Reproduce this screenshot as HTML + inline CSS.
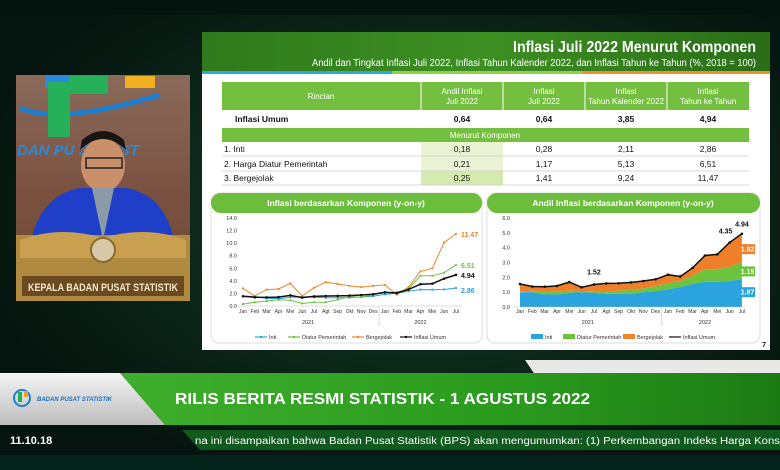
<!DOCTYPE html>
<html><head><meta charset="utf-8"><style>
html,body{margin:0;padding:0;width:780px;height:470px;overflow:hidden;background:#04140f;}
svg{display:block}
text{font-family:"Liberation Sans",sans-serif}
</style></head><body>
<svg id="s" width="780" height="470" viewBox="0 0 780 470" xmlns="http://www.w3.org/2000/svg">
<defs>
<radialGradient id="bg" cx="0.55" cy="0.45" r="0.6">
<stop offset="0" stop-color="#1f5a2a"/><stop offset="0.5" stop-color="#0d2a1a"/><stop offset="1" stop-color="#06140f"/>
</radialGradient>
<linearGradient id="hdr" x1="0" x2="1"><stop offset="0" stop-color="#2f7a1c"/><stop offset="0.5" stop-color="#3d8f22"/><stop offset="1" stop-color="#2a6e18"/></linearGradient>
<linearGradient id="band" x1="0" x2="1"><stop offset="0" stop-color="#3fae2c"/><stop offset="0.6" stop-color="#2a9a1e"/><stop offset="1" stop-color="#1c7a14"/></linearGradient>
<linearGradient id="gray" x1="0" y1="0" x2="0" y2="1"><stop offset="0" stop-color="#f4f4f4"/><stop offset="1" stop-color="#bdbdbd"/></linearGradient>
<linearGradient id="vid" x1="0" y1="0" x2="0" y2="1"><stop offset="0" stop-color="#8a6a5a"/><stop offset="0.55" stop-color="#7a5040"/><stop offset="1" stop-color="#6a4a30"/></linearGradient>
</defs>
<rect width="780" height="470" fill="url(#bg)"/>
<rect width="780" height="15" fill="#03140e"/>
<!-- video -->
<rect x="16" y="75" width="174" height="226" fill="url(#vid)"/>
<path d="M20 108 Q60 125 160 95" stroke="#1e7fd0" stroke-width="5" fill="none"/>
<rect x="45" y="76" width="40" height="12" fill="#2a8ae0"/>
<rect x="48" y="82" width="22" height="55" fill="#27b05a"/>
<rect x="70" y="76" width="38" height="18" fill="#27b05a"/>
<rect x="125" y="76" width="30" height="12" fill="#f0b020"/>
<text x="17" y="155" font-size="15" font-weight="bold" font-style="italic" fill="#2a8ad8">DAN PU    STATIST</text>
<ellipse cx="103" cy="165" rx="22" ry="27" fill="#c9906a"/>
<path d="M80 150 Q103 128 126 150 L124 140 Q103 122 82 140Z" fill="#1a1412"/>
<rect x="86" y="158" width="36" height="10" fill="none" stroke="#222" stroke-width="1.5"/>
<path d="M30 245 Q40 195 80 188 L126 188 Q166 195 175 245Z" fill="#1f3fc8"/>
<path d="M92 188 L103 240 L114 188Z" fill="#8a9aa8"/>
<rect x="16" y="235" width="174" height="66" fill="#b08a40"/>
<path d="M20 240 Q60 225 103 238 Q146 225 186 240 L186 258 L20 258Z" fill="#c9a050"/>
<circle cx="103" cy="250" r="12" fill="#d8c8a8" stroke="#8a6a30" stroke-width="2"/>
<rect x="22" y="276" width="162" height="20" fill="#6a4a20"/>
<text x="103" y="291" font-size="11" font-weight="bold" fill="#f4e8c8" text-anchor="middle" textLength="150" lengthAdjust="spacingAndGlyphs">KEPALA BADAN PUSAT STATISTIK</text>
<!-- slide -->
<rect x="202" y="32" width="568" height="318" fill="#fff"/>
<rect x="202" y="32" width="568" height="41" fill="url(#hdr)"/>
<rect x="202" y="71" width="190" height="3" fill="#2aa8e0"/><rect x="392" y="71" width="190" height="3" fill="#8ed04a"/><rect x="582" y="71" width="188" height="3" fill="#f0902a"/>
<text x="756" y="52" font-size="16" font-weight="bold" fill="#fff" text-anchor="end" textLength="243" lengthAdjust="spacingAndGlyphs">Inflasi Juli 2022 Menurut Komponen</text>
<text x="756" y="66" font-size="10" fill="#fff" text-anchor="end" textLength="444" lengthAdjust="spacingAndGlyphs">Andil dan Tingkat Inflasi Juli 2022, Inflasi Tahun Kalender 2022, dan Inflasi Tahun ke Tahun (%, 2018 = 100)</text>
<!-- table -->
<rect x="222" y="82" width="527" height="28" fill="#74bf3f"/>
<g stroke="#fff" stroke-width="1"><line x1="421" y1="82" x2="421" y2="110"/><line x1="503" y1="82" x2="503" y2="110"/><line x1="585" y1="82" x2="585" y2="110"/><line x1="667" y1="82" x2="667" y2="110"/></g>
<g font-size="8" fill="#fff" text-anchor="middle">
<text x="321" y="99">Rincian</text>
<text x="462" y="94">Andil Inflasi</text><text x="462" y="104">Juli 2022</text>
<text x="544" y="94">Inflasi</text><text x="544" y="104">Juli 2022</text>
<text x="626" y="94">Inflasi</text><text x="626" y="104">Tahun Kalender 2022</text>
<text x="708" y="94">Inflasi</text><text x="708" y="104">Tahun ke Tahun</text>
</g>
<rect x="421" y="142" width="82" height="43" fill="#eaf4d4"/>
<rect x="421" y="171" width="82" height="14" fill="#d4eab0"/>
<rect x="222" y="128" width="527" height="14" fill="#74bf3f"/>
<text x="485" y="138" font-size="8" fill="#fff" text-anchor="middle">Menurut Komponen</text>
<g stroke="#ccc" stroke-width="0.8"><line x1="222" y1="156" x2="749" y2="156"/><line x1="222" y1="171" x2="749" y2="171"/><line x1="222" y1="185" x2="749" y2="185"/></g>
<g font-size="8.5" fill="#111">
<text x="235" y="122" font-weight="bold">Inflasi Umum</text>
<g font-weight="bold" text-anchor="middle"><text x="462" y="122">0,64</text><text x="544" y="122">0,64</text><text x="626" y="122">3,85</text><text x="708" y="122">4,94</text></g>
<text x="224" y="152">1.  Inti</text><text x="224" y="167">2.  Harga Diatur Pemerintah</text><text x="224" y="181">3.  Bergejolak</text>
<g text-anchor="middle">
<text x="462" y="152">0,18</text><text x="544" y="152">0,28</text><text x="626" y="152">2,11</text><text x="708" y="152">2,86</text>
<text x="462" y="167">0,21</text><text x="544" y="167">1,17</text><text x="626" y="167">5,13</text><text x="708" y="167">6,51</text>
<text x="462" y="181">0,25</text><text x="544" y="181">1,41</text><text x="626" y="181">9,24</text><text x="708" y="181">11,47</text>
</g></g>
<!-- chart panels -->
<rect x="211" y="193" width="271" height="150" rx="8" fill="#fff" stroke="#ddd"/>
<rect x="211" y="193" width="271" height="20" rx="10" fill="#6cbd3c"/>
<text x="346" y="206" font-size="8.5" font-weight="bold" fill="#fff" text-anchor="middle">Inflasi berdasarkan Komponen (y-on-y)</text>
<rect x="487" y="193" width="273" height="150" rx="8" fill="#fff" stroke="#ddd"/>
<rect x="487" y="193" width="273" height="20" rx="10" fill="#6cbd3c"/>
<text x="623" y="206" font-size="8.5" font-weight="bold" fill="#fff" text-anchor="middle">Andil Inflasi berdasarkan Komponen (y-on-y)</text>
<g id="lc"></g><g id="rc"></g>
<text x="766" y="347" font-size="7" font-weight="bold" fill="#222" text-anchor="end">7</text>
<!-- bottom banner -->
<path d="M525 360 L780 360 L780 382 L540 382Z" fill="#e8e8e8"/>
<path d="M120 373 L780 373 L780 425 L165 425Z" fill="url(#band)"/>
<path d="M0 373 L120 373 L165 425 L0 425Z" fill="url(#gray)"/>
<circle cx="22" cy="398" r="8" fill="none" stroke="#1e7fd0" stroke-width="2"/>
<rect x="18" y="392" width="4" height="10" fill="#27b05a"/><rect x="24" y="391" width="4" height="6" fill="#f0a020"/>
<text x="37" y="401" font-size="6" font-weight="bold" font-style="italic" fill="#1e6fc0">BADAN PUSAT STATISTIK</text>
<text x="175" y="404" font-size="16" font-weight="bold" fill="#fff" textLength="415" lengthAdjust="spacingAndGlyphs">RILIS BERITA RESMI STATISTIK - 1 AGUSTUS 2022</text>
<path d="M182 430 L780 430 L780 450 L200 450Z" fill="#0f5a1c"/>
<text x="195" y="444" font-size="10" fill="#fff" textLength="585" lengthAdjust="spacingAndGlyphs">na ini disampaikan bahwa Badan Pusat Statistik (BPS) akan mengumumkan: (1) Perkembangan Indeks Harga Kons</text>
<text x="10" y="444" font-size="11" font-weight="bold" fill="#fff">11.10.18</text>
<rect x="0" y="455" width="780" height="15" fill="#04231b"/>
</svg>
<script>
var NS="http://www.w3.org/2000/svg";
function el(p,t,a,txt){var e=document.createElementNS(NS,t);for(var k in a)e.setAttribute(k,a[k]);if(txt!=null)e.textContent=txt;p.appendChild(e);return e;}
var M=["Jan","Feb","Mar","Apr","Mei","Jun","Jul","Agt","Sep","Okt","Nov","Des","Jan","Feb","Mar","Apr","Mei","Jun","Jul"];
// left
var L=document.getElementById("lc");
var lx=function(i){return 243+i*11.83},ly=function(v){return 306-v*6.29};
for(var v=0;v<=14;v+=2){el(L,"text",{x:237,y:ly(v)+2,"font-size":5.5,"text-anchor":"end",fill:"#333"},v.toFixed(1));}
el(L,"line",{x1:238,y1:306,x2:462,y2:306,stroke:"#bbb","stroke-width":0.6});
M.forEach(function(m,i){el(L,"text",{x:lx(i),y:313,"font-size":5,"text-anchor":"middle",fill:"#333"},m)});
el(L,"line",{x1:lx(11.5),y1:307,x2:lx(11.5),y2:326,stroke:"#bbb","stroke-width":0.6});
el(L,"text",{x:lx(5.5),y:324,"font-size":5.5,"text-anchor":"middle",fill:"#333"},"2021");
el(L,"text",{x:lx(15),y:324,"font-size":5.5,"text-anchor":"middle",fill:"#333"},"2022");
var inti=[1.55,1.53,1.21,1.18,1.37,1.49,1.40,1.31,1.30,1.33,1.44,1.56,1.84,2.03,2.37,2.60,2.58,2.63,2.86];
var dia=[0.3,0.6,0.8,1.0,0.9,0.4,0.6,0.6,1.0,1.5,1.4,1.8,2.1,2.2,2.7,4.8,4.8,5.3,6.51];
var ber=[2.8,1.6,2.6,2.7,3.6,1.6,2.9,3.8,3.5,3.2,3.0,3.2,3.35,1.8,3.0,5.5,6.0,10.1,11.47];
var um=[1.55,1.38,1.37,1.42,1.68,1.33,1.52,1.59,1.60,1.66,1.75,1.87,2.18,2.06,2.64,3.47,3.55,4.35,4.94];
function line(g,d,c,w,xf,yf,r){var p=d.map(function(v,i){return xf(i).toFixed(1)+","+yf(v).toFixed(1)}).join(" ");
el(g,"polyline",{points:p,fill:"none",stroke:c,"stroke-width":w});d.forEach(function(v,i){el(g,"circle",{cx:xf(i),cy:yf(v),r:r,fill:c})});}
line(L,inti,"#2ba3de",1,lx,ly,1.1);line(L,dia,"#6cc43d",1,lx,ly,1.1);line(L,ber,"#f0842c",1,lx,ly,1.1);line(L,um,"#111",1.5,lx,ly,1.3);
el(L,"text",{x:461,y:ly(11.47)+3,"font-size":7,"font-weight":"bold",fill:"#f0842c"},"11.47");
el(L,"text",{x:461,y:ly(6.51)+3,"font-size":7,"font-weight":"bold",fill:"#6cc43d"},"6.51");
el(L,"text",{x:461,y:ly(4.94)+3,"font-size":7,"font-weight":"bold",fill:"#111"},"4.94");
el(L,"text",{x:461,y:ly(2.86)+5,"font-size":7,"font-weight":"bold",fill:"#2ba3de"},"2.86");
var lg=[["#2ba3de","Inti",255],["#6cc43d","Diatur Pemerintah",288],["#f0842c","Bergejolak",352],["#111","Inflasi Umum",400]];
lg.forEach(function(a){el(L,"line",{x1:a[2],y1:337,x2:a[2]+12,y2:337,stroke:a[0],"stroke-width":1.2});el(L,"circle",{cx:a[2]+6,cy:337,r:1.2,fill:a[0]});el(L,"text",{x:a[2]+14,y:339,"font-size":5.5,fill:"#333"},a[1])});
// right
var R=document.getElementById("rc");
var rx=function(i){return 520+i*12.33},ry=function(v){return 307-v*14.83};
for(var v=0;v<=6;v++){el(R,"text",{x:510,y:ry(v)+2,"font-size":5.5,"text-anchor":"end",fill:"#333"},v.toFixed(1));}
var ai=[1.0,1.0,0.85,0.85,0.95,1.0,0.95,0.9,0.9,0.9,1.0,1.05,1.2,1.35,1.55,1.7,1.7,1.75,1.87];
var ad=[0.05,0.1,0.15,0.2,0.15,0.08,0.1,0.1,0.2,0.25,0.25,0.35,0.4,0.4,0.55,0.85,0.85,0.95,1.15];
function area(lo,hi,c){var p=[];hi.forEach(function(v,i){p.push(rx(i).toFixed(1)+","+ry(v).toFixed(1))});for(var i=lo.length-1;i>=0;i--)p.push(rx(i).toFixed(1)+","+ry(lo[i]).toFixed(1));el(R,"polygon",{points:p.join(" "),fill:c});}
var z=ai.map(function(){return 0}),s2=ai.map(function(v,i){return v+ad[i]});
area(s2,um,"#ef7f2a");area(ai,s2,"#6cc43d");area(z,ai,"#2ba3de");
el(R,"line",{x1:514,y1:307,x2:746,y2:307,stroke:"#bbb","stroke-width":0.6});
line(R,um,"#111",1.5,rx,ry,1.3);
M.forEach(function(m,i){el(R,"text",{x:rx(i),y:313,"font-size":5,"text-anchor":"middle",fill:"#333"},m)});
el(R,"line",{x1:rx(11.5),y1:307,x2:rx(11.5),y2:326,stroke:"#bbb","stroke-width":0.6});
el(R,"text",{x:rx(5.5),y:324,"font-size":5.5,"text-anchor":"middle",fill:"#333"},"2021");
el(R,"text",{x:rx(15),y:324,"font-size":5.5,"text-anchor":"middle",fill:"#333"},"2022");
el(R,"text",{x:rx(6),y:ry(1.52)-10,"font-size":7,"font-weight":"bold","text-anchor":"middle",fill:"#111"},"1.52");
el(R,"text",{x:rx(17)-4,y:ry(4.35)-9,"font-size":7,"font-weight":"bold","text-anchor":"middle",fill:"#111"},"4.35");
el(R,"text",{x:rx(18),y:ry(4.94)-7,"font-size":7,"font-weight":"bold","text-anchor":"middle",fill:"#111"},"4.94");
[["#ef7f2a","1.92",3.9],["#6cc43d","1.15",2.4],["#2ba3de","1.87",1.0]].forEach(function(a){el(R,"rect",{x:740,y:ry(a[2])-5,width:15,height:10,fill:a[0]});el(R,"text",{x:747.5,y:ry(a[2])+2.5,"font-size":7,"font-weight":"bold","text-anchor":"middle",fill:"#fff"},a[1])});
var rl=[["#2ba3de","Inti",531,1],["#6cc43d","Diatur Pemerintah",563,1],["#f0842c","Bergejolak",623,1],["#111","Inflasi Umum",669,0]];
rl.forEach(function(a){if(a[3])el(R,"rect",{x:a[2],y:334,width:12,height:5,fill:a[0]});else{el(R,"line",{x1:a[2],y1:337,x2:a[2]+12,y2:337,stroke:a[0],"stroke-width":1.2});}el(R,"text",{x:a[2]+14,y:339,"font-size":5.5,fill:"#333"},a[1])});
</script>
</body></html>
